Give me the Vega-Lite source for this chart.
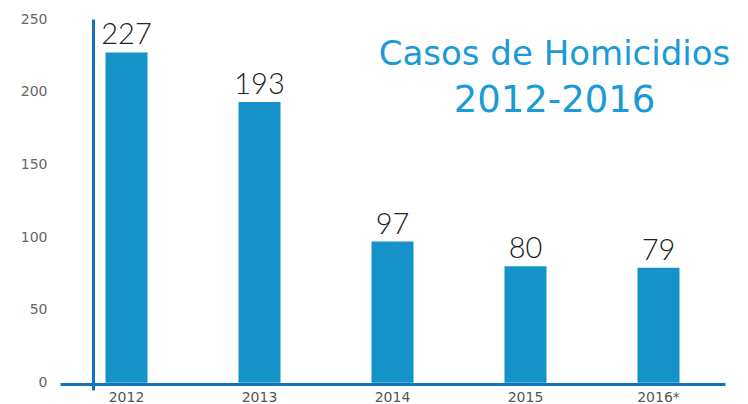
{
  "$schema": "https://vega.github.io/schema/vega-lite/v6.json",
  "autosize": "none",
  "padding": {"left": 60, "top": 19, "right": 23, "bottom": 14},
  "width": 665,
  "height": 371,
  "background": "white",
  "title": {
    "text": "Casos de Homicidios",
    "subtitle": "2012-2016",
    "anchor": "middle",
    "dx": 162,
    "offset": -107,
    "font": "DejaVu Sans",
    "fontSize": 34,
    "fontWeight": "normal",
    "color": "#1a9ad6",
    "subtitleFont": "DejaVu Sans",
    "subtitleFontSize": 37,
    "subtitleFontWeight": "normal",
    "subtitleColor": "#1a9ad6",
    "subtitlePadding": 11
  },
  "data": {
    "values": [
      {"year": "2012", "cases": 227},
      {"year": "2013", "cases": 193},
      {"year": "2014", "cases": 97},
      {"year": "2015", "cases": 80},
      {"year": "2016*", "cases": 79}
    ]
  },
  "encoding": {
    "x": {
      "field": "year",
      "type": "nominal",
      "sort": null,
      "scale": {"paddingInner": 0.684, "paddingOuter": 0.342},
      "axis": {
        "title": null,
        "labelAngle": 0,
        "ticks": false,
        "domainColor": "#1573bb",
        "domainWidth": 3,
        "labelPadding": 6,
        "offset": -6,
        "labelFont": "DejaVu Sans",
        "labelFontSize": 14,
        "labelColor": "#555555"
      }
    },
    "y": {
      "field": "cases",
      "type": "quantitative",
      "scale": {"domain": [-5, 250], "nice": false},
      "axis": {
        "title": null,
        "values": [0, 50, 100, 150, 200, 250],
        "grid": false,
        "ticks": false,
        "domainColor": "#1573bb",
        "domainWidth": 3,
        "offset": -33,
        "labelPadding": 46,
        "labelFont": "DejaVu Sans",
        "labelFontSize": 14,
        "labelColor": "#666666"
      }
    }
  },
  "layer": [
    {"mark": {"type": "bar", "color": "#1593c9"}},
    {
      "mark": {
        "type": "text",
        "baseline": "alphabetic",
        "dy": -8,
        "font": "Lato",
        "fontSize": 29,
        "fontWeight": 300,
        "color": "#222222"
      },
      "encoding": {"text": {"field": "cases", "type": "quantitative"}}
    }
  ],
  "config": {"view": {"stroke": null}}
}
